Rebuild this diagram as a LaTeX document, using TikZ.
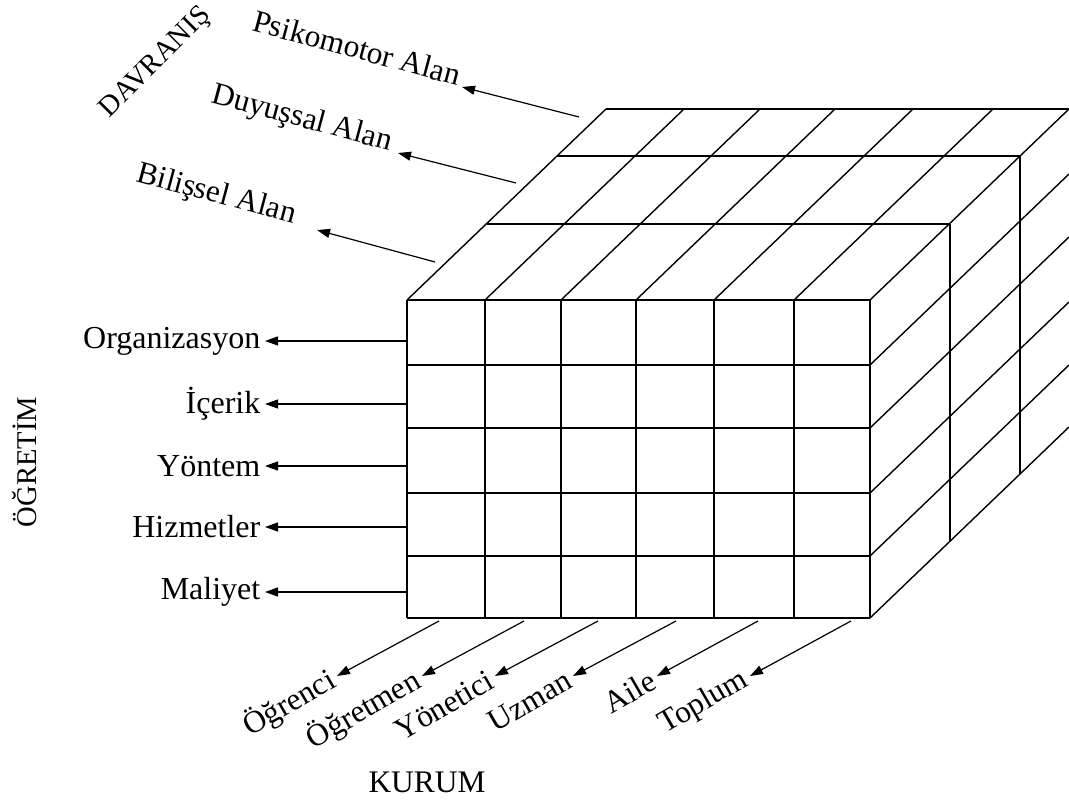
\documentclass[tikz,border=0pt]{standalone}
\usepackage{fontspec}
\setmainfont{Liberation Serif}
\usetikzlibrary{positioning,arrows.meta}

\begin{document}
\begin{tikzpicture}[x=0.5pt,y=-0.5pt,line width=0.7pt,
  lbl/.style={font=\fontsize{15.7}{18}\selectfont,inner sep=1pt},
  toplbl/.style={lbl,rotate=-15,anchor=base east},
  sidelbl/.style={font=\fontsize{16}{19}\selectfont,inner sep=1pt,inner xsep=2pt,anchor=east},
  botlbl/.style={lbl,inner xsep=2pt,rotate=30,anchor=east},
  arr/.style={-{Triangle[length=6.5pt,width=4.5pt]},line width=0.6pt}]
\useasboundingbox (0,0) rectangle (1069,801);
% front face
\foreach \x in {407,485,561,636,714,794,870}
  \draw (\x,300) -- (\x,618);
\foreach \y in {300,365,428,493,556,618}
  \draw (407,\y) -- (870,\y);
% top and right faces
\foreach \x in {407,485,561,636,714,794,870}
  \draw (\x,300) -- ++(199,-191);
\foreach \y in {365,428,493,556,618}
  \draw (870,\y) -- ++(199,-191);
\foreach \dx/\dy in {80/76,150/144,199/191}
  \draw (407+\dx,300-\dy) -- ++(463,0);
\foreach \dx/\dy in {80/76,150/144}
  \draw (870+\dx,300-\dy) -- ++(0,318);

\node[font=\fontsize{14.3}{17}\selectfont,rotate=45] (davranis) at (156,63) {DAVRANIŞ};
\node[toplbl,inner xsep=2pt] (psiko) at (462,87) {Psikomotor Alan};
\node[toplbl,inner xsep=4pt] (duyus) at (398,153) {Duyuşsal Alan};
\node[toplbl,inner xsep=12pt] (bilis) at (317,230) {Bilişsel Alan};
\coordinate (psiko0) at (579,117);
\coordinate (duyus0) at (516,183);
\coordinate (bilis0) at (435,262);
\draw[arr] (psiko0) -- (psiko.base east);
\draw[arr] (duyus0) -- (duyus.base east);
\draw[arr] (bilis0) -- (bilis.base east);

\node[font=\fontsize{14.3}{17}\selectfont,rotate=90] (ogretim) at (25,462) {ÖĞRETİM};
\foreach \n/\t/\y in {org/Organizasyon/341,icerik/İçerik/404,yontem/Yöntem/466,hizmet/Hizmetler/527,maliyet/Maliyet/592}{
  \coordinate (\n0) at (407,\y);
  \node[sidelbl] (\n) at (265,\y) {\t};
  \draw[arr] (\n0) -- (\n);
}

\foreach \n/\t/\a/\b in {ogrenci/Öğrenci/439/337,ogretmen/Öğretmen/524/422,yonetici/Yönetici/598/495,uzman/Uzman/676/573,aile/Aile/758/657,toplum/Toplum/851/750}{
  \coordinate (\n0) at (\a,621);
  \node[botlbl] (\n) at (\b,676) {\t};
  \draw[arr] (\n0) -- (\n.east);
}
\node[lbl] (kurum) at (427,782) {KURUM};
\end{tikzpicture}
\end{document}
